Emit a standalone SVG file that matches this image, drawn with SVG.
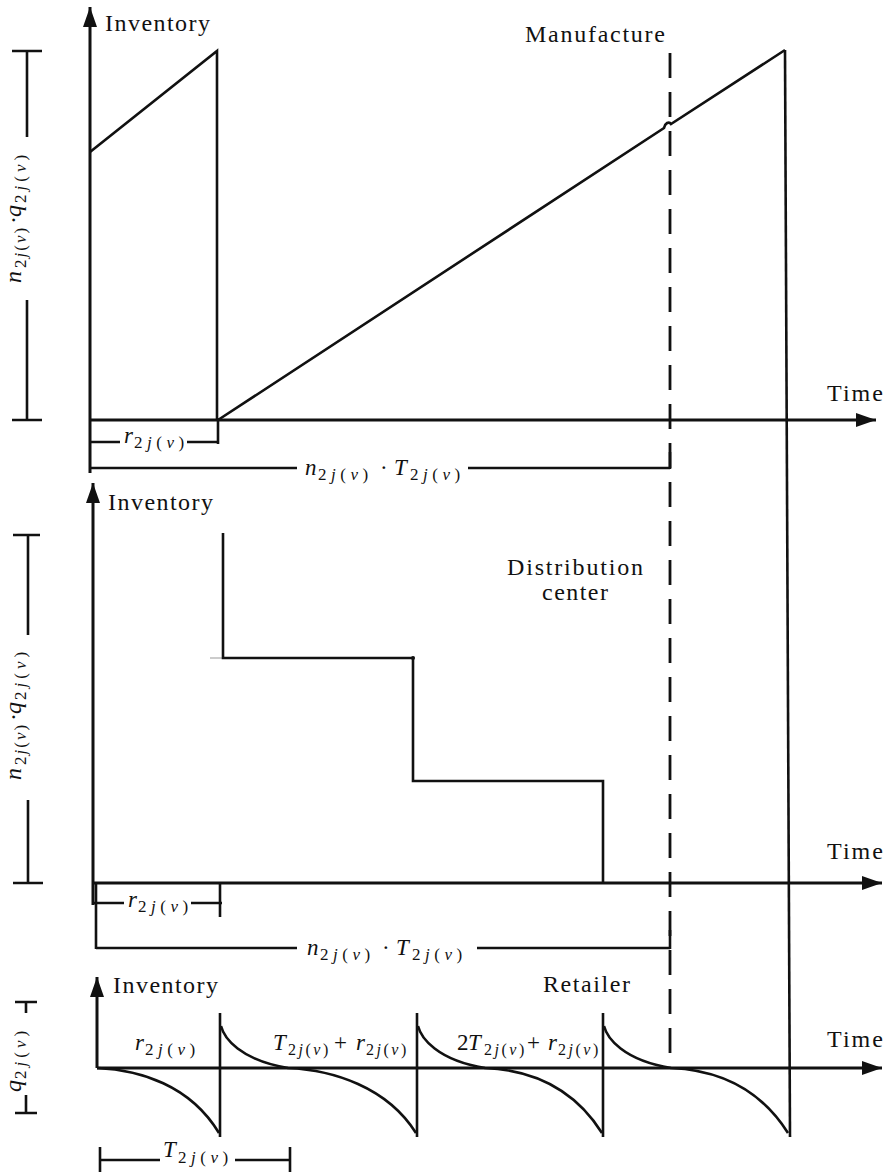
<svg xmlns="http://www.w3.org/2000/svg" width="887" height="1173" viewBox="0 0 887 1173">
<defs>
<marker id="arr" markerUnits="userSpaceOnUse" markerWidth="20" markerHeight="14" refX="20" refY="7" orient="auto">
<path d="M0,0 L20,7 L0,14 z" fill="#111"/>
</marker>
<style>
.ln{stroke:#111;stroke-width:2.6;fill:none;stroke-linecap:butt}
.ax{stroke:#111;stroke-width:3;fill:none}
.dash{stroke:#111;stroke-width:2.8;fill:none;stroke-dasharray:25 14}
.lbl{font-family:"Liberation Serif","Times New Roman",serif;font-size:24px;fill:#111}
.m{font-family:"Liberation Serif","Times New Roman",serif;font-size:23px;fill:#111;font-style:italic}
.mr{font-family:"Liberation Serif","Times New Roman",serif;font-size:24px;fill:#111;font-style:italic}
.u{font-style:normal}
.s{font-size:16px;letter-spacing:2.5px}
.s2{font-size:17px;letter-spacing:4.5px}
.sr{font-size:17px;letter-spacing:2px}
</style>
</defs>
<rect width="887" height="1173" fill="#fff"/>

<g id="connectors">
<line class="dash" x1="670" y1="53" x2="670" y2="1064"/>
<line class="ln" x1="670" y1="452" x2="670" y2="469"/>
<line class="ln" x1="670" y1="930" x2="670" y2="949"/>
<line class="ln" x1="785" y1="50" x2="790" y2="1137"/>
</g>

<g id="manufacture">
<line class="ax" x1="90" y1="473" x2="90" y2="7" marker-end="url(#arr)"/>
<line class="ax" x1="90" y1="420" x2="876" y2="420" marker-end="url(#arr)"/>
<path class="ln" d="M90,152 L217,51 L217,420 M218,420 L664,128 C665,123 669,121 671,124 L785,50"/>
<text class="lbl" x="105" y="31" textLength="105" lengthAdjust="spacing">Inventory</text>
<text class="lbl" x="525" y="42" textLength="140" lengthAdjust="spacing">Manufacture</text>
<text class="lbl" x="827" y="401" textLength="56" lengthAdjust="spacing">Time</text>
</g>

<g id="distribution">
<line class="ax" x1="93" y1="905" x2="93" y2="483" marker-end="url(#arr)"/>
<line class="ax" x1="93" y1="883" x2="882" y2="883" marker-end="url(#arr)"/>
<line x1="210" y1="658" x2="223" y2="658" stroke="#999" stroke-width="1"/>
<path class="ln" d="M223,533 L223,658 L413,658 L413,781 L603,781 L603,883"/>
<circle cx="413" cy="658" r="2" fill="#111"/>
<text class="lbl" x="108" y="510" textLength="105" lengthAdjust="spacing">Inventory</text>
<text class="lbl" x="507" y="575" textLength="136" lengthAdjust="spacing">Distribution</text>
<text class="lbl" x="542" y="600" textLength="66" lengthAdjust="spacing">center</text>
<text class="lbl" x="827" y="859" textLength="56" lengthAdjust="spacing">Time</text>
</g>

<g id="retailer">
<line class="ax" x1="97" y1="1068" x2="97" y2="977" marker-end="url(#arr)"/>
<line class="ax" x1="97" y1="1068" x2="882" y2="1068" marker-end="url(#arr)"/>
<path class="ln" d="M97,1068 C140,1070 190,1085 219,1133
M221,1026 C224,1038 240,1060 288,1068 C333,1070 387,1087 416,1133
M418,1026 C421,1038 437,1060 485,1068 C530,1070 573,1087 602,1133
M604,1026 C607,1038 623,1060 671,1068 C716,1070 759,1087 788,1133"/>
<path class="ln" d="M220,1013 L220,1137 M417,1013 L417,1137 M603,1013 L603,1137"/>
<text class="lbl" x="113" y="993" textLength="105" lengthAdjust="spacing">Inventory</text>
<text class="lbl" x="543" y="992" textLength="87" lengthAdjust="spacing">Retailer</text>
<text class="lbl" x="827" y="1047" textLength="56" lengthAdjust="spacing">Time</text>
<text class="m"><tspan x="135" y="1050">r</tspan><tspan class="s2" x="145" y="1055"><tspan class="u">2</tspan>j<tspan class="u">(</tspan>v<tspan class="u">)</tspan></tspan></text>
<text class="m"><tspan x="273" y="1050">T</tspan><tspan class="s" x="288" y="1055"><tspan class="u">2</tspan>j<tspan class="u">(</tspan>v<tspan class="u">)</tspan></tspan><tspan class="u" x="334" y="1050">+</tspan><tspan x="356" y="1050">r</tspan><tspan class="s" x="366" y="1055"><tspan class="u">2</tspan>j<tspan class="u">(</tspan>v<tspan class="u">)</tspan></tspan></text>
<text class="m"><tspan class="u" x="457" y="1050">2</tspan><tspan x="468" y="1050">T</tspan><tspan class="s" x="484" y="1055"><tspan class="u">2</tspan>j<tspan class="u">(</tspan>v<tspan class="u">)</tspan></tspan><tspan class="u" x="527" y="1050">+</tspan><tspan x="548" y="1050">r</tspan><tspan class="s" x="558" y="1055"><tspan class="u">2</tspan>j<tspan class="u">(</tspan>v<tspan class="u">)</tspan></tspan></text>
</g>

<g id="dimensions">
<path class="ln" d="M12,51 L42,51 M27,51 L27,137 M27,300 L27,420 M12,420 L42,420"/>
<text class="mr" transform="translate(21,283) rotate(-90)"><tspan x="0" y="0">n</tspan><tspan class="sr" x="15" y="5"><tspan class="u">2</tspan>j<tspan class="u">(</tspan>v<tspan class="u">)</tspan></tspan><tspan class="u" x="59" y="0">·</tspan><tspan x="66" y="0">q</tspan><tspan class="sr" x="80" y="5" style="letter-spacing:4px"><tspan class="u">2</tspan>j<tspan class="u">(</tspan>v<tspan class="u">)</tspan></tspan></text>

<path class="ln" d="M90,442 L120,442 M187,442 L218,442 M218,420 L218,444"/>
<text class="m"><tspan x="124" y="443">r</tspan><tspan class="s2" x="134" y="448"><tspan class="u">2</tspan>j<tspan class="u">(</tspan>v<tspan class="u">)</tspan></tspan></text>

<path class="ln" d="M90,468 L297,468 M468,468 L670,468"/>
<text class="m"><tspan x="305" y="475">n</tspan><tspan class="s2" x="318" y="480"><tspan class="u">2</tspan>j<tspan class="u">(</tspan>v<tspan class="u">)</tspan></tspan><tspan class="u" x="380" y="475">·</tspan><tspan x="394" y="475">T</tspan><tspan class="s2" x="410" y="480"><tspan class="u">2</tspan>j<tspan class="u">(</tspan>v<tspan class="u">)</tspan></tspan></text>

<path class="ln" d="M13,535 L40,535 M28,535 L28,635 M28,800 L28,883 M13,883 L43,883"/>
<text class="mr" transform="translate(21,780) rotate(-90)"><tspan x="0" y="0">n</tspan><tspan class="sr" x="15" y="5"><tspan class="u">2</tspan>j<tspan class="u">(</tspan>v<tspan class="u">)</tspan></tspan><tspan class="u" x="59" y="0">·</tspan><tspan x="66" y="0">q</tspan><tspan class="sr" x="80" y="5" style="letter-spacing:4px"><tspan class="u">2</tspan>j<tspan class="u">(</tspan>v<tspan class="u">)</tspan></tspan></text>

<path class="ln" d="M96,883 L96,949 M93,903 L124,903 M191,903 L222,903 M220,883 L220,917"/>
<text class="m"><tspan x="128" y="907">r</tspan><tspan class="s2" x="138" y="912"><tspan class="u">2</tspan>j<tspan class="u">(</tspan>v<tspan class="u">)</tspan></tspan></text>

<path class="ln" d="M96,948 L297,948 M477,948 L670,948"/>
<text class="m"><tspan x="307" y="955">n</tspan><tspan class="s2" x="320" y="960"><tspan class="u">2</tspan>j<tspan class="u">(</tspan>v<tspan class="u">)</tspan></tspan><tspan class="u" x="382" y="955">·</tspan><tspan x="396" y="955">T</tspan><tspan class="s2" x="412" y="960"><tspan class="u">2</tspan>j<tspan class="u">(</tspan>v<tspan class="u">)</tspan></tspan></text>

<path class="ln" d="M15,1002 L37,1002 M26,1002 L26,1013 M26,1095 L26,1113 M15,1113 L37,1113"/>
<text class="mr" transform="translate(21,1092) rotate(-90)"><tspan x="0" y="0">q</tspan><tspan class="sr" x="13" y="5" style="letter-spacing:4px"><tspan class="u">2</tspan>j<tspan class="u">(</tspan>v<tspan class="u">)</tspan></tspan></text>

<path class="ln" d="M100,1147 L100,1172 M100,1160 L160,1160 M235,1160 L290,1160 M290,1147 L290,1172"/>
<text class="m"><tspan x="163" y="1157">T</tspan><tspan class="s2" x="178" y="1163"><tspan class="u">2</tspan>j<tspan class="u">(</tspan>v<tspan class="u">)</tspan></tspan></text>
</g>
</svg>
